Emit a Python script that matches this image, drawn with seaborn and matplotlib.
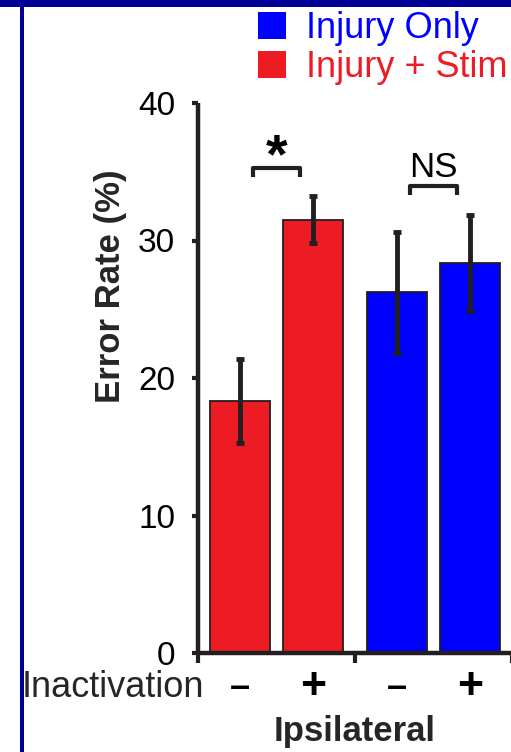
import matplotlib
matplotlib.use('Agg')
import matplotlib.pyplot as plt
import seaborn as sns
import pandas as pd
import numpy as np
from matplotlib.patches import Patch, Rectangle

# data
groups = ['Injury + Stim', 'Injury Only']
inactivation = ['-', '+']
error_rate = [18.3, 31.5, 26.25, 28.35]   # order: (Stim,-), (Stim,+), (Only,-), (Only,+)
sem = [3.05, 1.7, 4.4, 3.5]
sig_labels = ['*', 'NS']
sig_heights = [35.3, 34.0]
yticks = [0, 10, 20, 30, 40]

colors = {'Injury + Stim': '#ED1C24', 'Injury Only': '#0000FF'}
dark = '#231F20'

df = pd.DataFrame({
    'group': np.repeat(groups, 2),
    'inactivation': inactivation * 2,
    'rate': error_rate,
    'sem': sem,
})

sns.set_style('white')
plt.rcParams['font.family'] = ['Liberation Sans', 'DejaVu Sans']

W, H = 511, 752
fig = plt.figure(figsize=(W / 100, H / 100), dpi=100)
ax = fig.add_axes([198 / W, (H - 653) / H, 314 / W, 550 / H])

sns.barplot(data=df, x='group', y='rate', hue='inactivation', order=groups,
            hue_order=inactivation, width=0.936, gap=0.19, errorbar=None,
            legend=False, ax=ax, edgecolor=dark, linewidth=1.3)

# recolour bars by group, add error bars and the +/- labels
bar_containers = list(ax.containers)
for hi, cont in enumerate(bar_containers):
    for gi, bar in enumerate(cont):
        g = groups[gi]
        bar.set_facecolor(colors[g])
        row = df[(df['group'] == g) & (df['inactivation'] == inactivation[hi])].iloc[0]
        cx = bar.get_x() + bar.get_width() / 2
        ax.errorbar(cx, row['rate'], yerr=row['sem'], fmt='none', ecolor=dark,
                    elinewidth=3.5, capsize=3, capthick=3.5, zorder=5)
        lab = '–' if inactivation[hi] == '-' else '+'
        ax.text(cx, -0.062, lab, transform=ax.get_xaxis_transform(),
                ha='center', va='center', fontsize=26 if lab == '–' else 32,
                fontweight='bold', color='black')

ax.set_xlim(-0.5, 1.5)
ax.set_ylim(0, 40)
ax.set_yticks(yticks)
ax.set_xticks([])
ax.set_xticks([-0.5, 0.5, 1.5], minor=True)
ax.set_xlabel('')
ax.set_ylabel('')
ax.tick_params(axis='y', direction='out', length=4.5, width=3, color=dark,
               labelsize=24, pad=12, left=True, labelcolor='black')
ax.tick_params(axis='x', which='minor', direction='out', length=7, width=3,
               color=dark, bottom=True)
sns.despine(ax=ax)
for side in ['left', 'bottom']:
    ax.spines[side].set_linewidth(3.2)
    ax.spines[side].set_color(dark)
    ax.spines[side].set_capstyle('butt')

# significance brackets
for gi, (lab, h) in enumerate(zip(sig_labels, sig_heights)):
    x0, x1 = gi - 0.15, gi + 0.15
    ax.plot([x0, x0, x1, x1], [h - 0.7, h, h, h - 0.7], color=dark, lw=3,
            solid_capstyle='butt', clip_on=False)
    if lab == '*':
        ax.text(gi, h - 0.35, lab, ha='center', va='baseline', fontsize=40,
                fontweight='bold', color='black')
    else:
        ax.text(gi, h + 0.6, lab, ha='center', va='baseline', fontsize=25,
                color='black')

ax.text(-0.28, 0.667, 'Error Rate (%)', transform=ax.transAxes, rotation=90,
        ha='center', va='center', fontsize=25, fontweight='bold')
ax.text(0.02, -0.062, 'Inactivation', transform=ax.transAxes, ha='right',
        va='center', fontsize=26)
ax.text(0.5, -0.142, 'Ipsilateral', transform=ax.transAxes, ha='center',
        va='center', fontsize=25, fontweight='bold')

# legend
handles = [Patch(facecolor=colors['Injury Only'], edgecolor='none'),
           Patch(facecolor=colors['Injury + Stim'], edgecolor='none')]
leg = fig.legend(handles, ['Injury Only', 'Injury + Stim'], loc='upper left',
                 bbox_to_anchor=(258 / W, 1 - 11 / H), frameon=False,
                 fontsize=26, handlelength=0.78, handleheight=0.78,
                 handletextpad=0.55, labelspacing=0.12, borderpad=0,
                 borderaxespad=0)
for t, c in zip(leg.get_texts(), ['Injury Only', 'Injury + Stim']):
    t.set_color(colors[c])

# navy frame on top and left
fig.add_artist(Rectangle((0, 1 - 7 / H), 1, 7 / H, transform=fig.transFigure,
                         color='#000096', lw=0))
fig.add_artist(Rectangle((20 / W, 0), 4 / W, 1, transform=fig.transFigure,
                         color='#000096', lw=0))

fig.savefig('out.png', dpi=100)
